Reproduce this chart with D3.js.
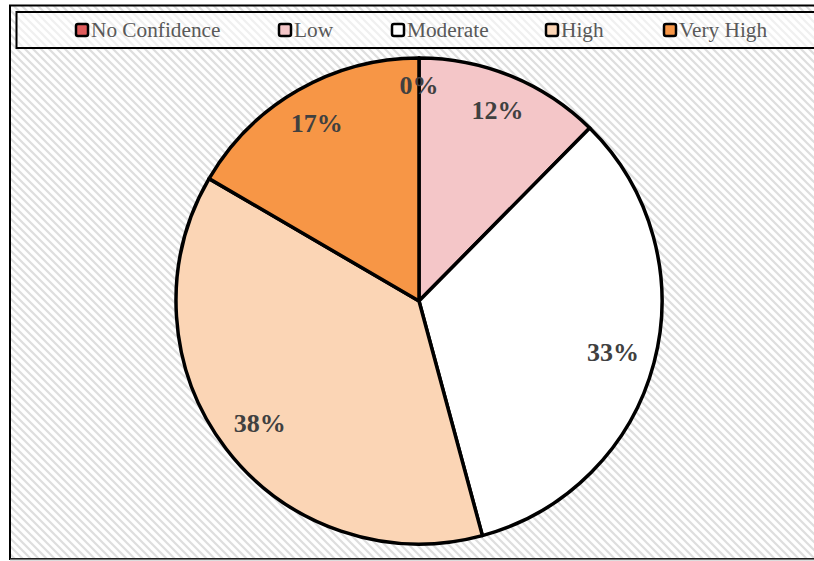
<!DOCTYPE html>
<html><head><meta charset="utf-8">
<script src="https://cdn.jsdelivr.net/npm/d3@7"></script>
<style>html,body{margin:0;padding:0;background:#fff;}svg{display:block;}</style>
</head><body>
<script>
const categories = ["No Confidence", "Low", "Moderate", "High", "Very High"];
const values = [0, 12.4, 33.4, 37.6, 16.6];
const colors = ["#e05c5c", "#f4c6c8", "#ffffff", "#fbd5b5", "#f79646"];

const W = 814, H = 561;
const svg = d3.select("body").append("svg").attr("width", W).attr("height", H);
const defs = svg.append("defs");
function hatch(id, col) {
  const p = defs.append("pattern").attr("id", id).attr("patternUnits", "userSpaceOnUse")
    .attr("width", 8).attr("height", 8);
  p.append("rect").attr("width", 8).attr("height", 8).attr("fill", "#fff");
  p.append("path").attr("d", "M-2,-2 L10,10 M-2,6 L2,10 M6,-2 L10,2")
    .attr("stroke", col).attr("stroke-width", 2.2);
}
hatch("hatch", "#dedede");
hatch("hatchL", "#f0f0f0");

// outer frame
svg.append("rect").attr("x", 10).attr("y", 5.5).attr("width", 820).attr("height", 553.5)
  .attr("fill", "url(#hatch)").attr("stroke", "#000").attr("stroke-width", 2);
svg.append("line").attr("x1", 10).attr("x2", W).attr("y1", 559.5).attr("y2", 559.5)
  .attr("stroke", "#777").attr("stroke-width", 1.5);

// legend box
svg.append("rect").attr("x", 16.5).attr("y", 12).attr("width", 820).attr("height", 36)
  .attr("fill", "url(#hatchL)").attr("stroke", "#000").attr("stroke-width", 2);

const legendX = [76, 279, 392, 546, 664];
const lg = svg.append("g");
categories.forEach((c, i) => {
  const g = lg.append("g").attr("transform", `translate(${legendX[i]},30)`);
  g.append("rect").attr("x", 0).attr("y", -6).attr("width", 12).attr("height", 12).attr("rx", 2)
    .attr("fill", colors[i]).attr("stroke", "#000").attr("stroke-width", 2.5);
  g.append("text").attr("x", 15).attr("y", 0).attr("dy", "0.35em")
    .attr("font-family", "'Liberation Serif', 'Times New Roman', Times")
    .attr("font-size", 21.3).attr("fill", "#595959").text(c);
});

// pie
const cx = 419, cy = 301, R = 243;
const pie = d3.pie().sort(null).value(d => d)(values);
const arc = d3.arc().innerRadius(0).outerRadius(R);
const pg = svg.append("g").attr("transform", `translate(${cx},${cy})`);
pg.selectAll("path").data(pie).join("path")
  .attr("d", arc).attr("fill", (d, i) => colors[i])
  .attr("stroke", "#000").attr("stroke-width", 3.5).attr("stroke-linejoin", "round");
const labels = pg.selectAll("text").data(pie).join("text")
  .attr("text-anchor", "middle").attr("dy", "0.35em")
  .attr("font-family", "'Liberation Serif', 'Times New Roman', Times")
  .attr("font-weight", "700").attr("font-size", 26).attr("fill", "#404040")
  .text(d => Math.round(d.data) + "%");
// "inside end" placement: push label box outward until it touches an inner circle
const fitR = 229;
labels.each(function(d) {
  const bb = this.getBBox();
  const hw = bb.width / 2, hh = 12;
  const a = (d.startAngle + d.endAngle) / 2;
  const ux = Math.sin(a), uy = -Math.cos(a);
  let r = 0;
  for (let t = 0; t < fitR; t += 0.5) {
    const x = Math.abs(t * ux) + hw, y = Math.abs(t * uy) + hh;
    if (Math.hypot(x, y) > fitR) break;
    r = t;
  }
  d3.select(this).attr("transform", `translate(${r * ux},${r * uy})`);
});
</script>
</body></html>
